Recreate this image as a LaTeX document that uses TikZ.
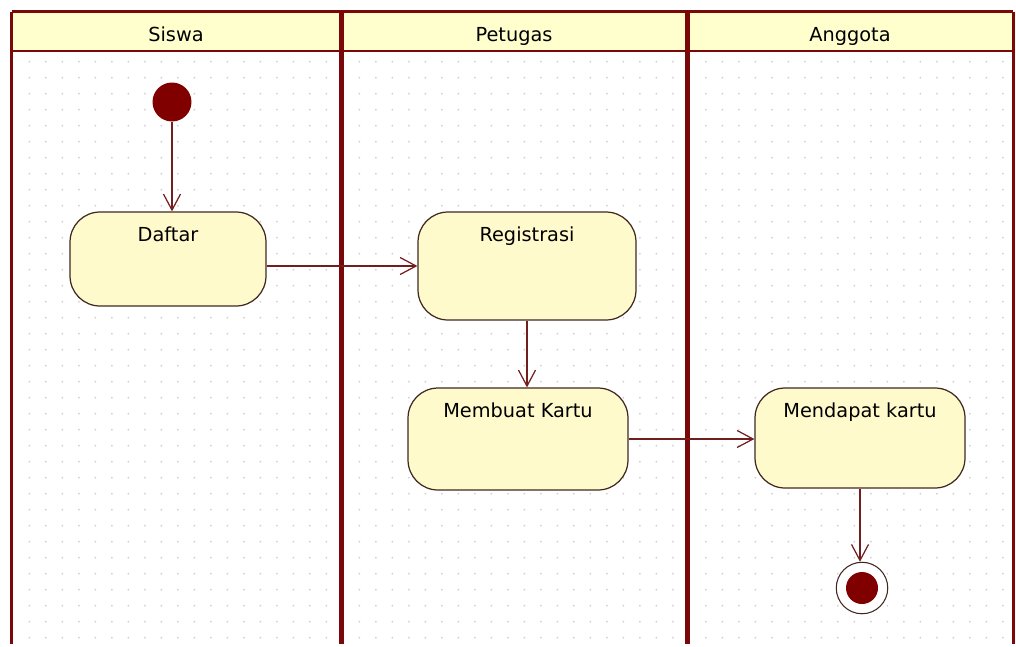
\documentclass[tikz,border=0pt]{standalone}
\usepackage{fontspec}
\setmainfont{DejaVu Sans}
\usetikzlibrary{arrows.meta,calc}
\definecolor{lanered}{RGB}{122,8,8}
\definecolor{headfill}{RGB}{255,255,206}
\definecolor{actfill}{RGB}{255,250,204}
\definecolor{actline}{RGB}{64,40,32}
\definecolor{flowline}{RGB}{112,30,30}
\definecolor{dotgray}{RGB}{208,208,208}
\definecolor{startred}{RGB}{128,0,0}

\begin{document}
\begin{tikzpicture}[x=0.02cm,y=-0.02cm,font=\fontsize{11}{13}\selectfont]
\path [use as bounding box] (0,0) rectangle (1016,646);
\tikzstyle{action} = [draw=actline, line width=0.7pt, fill=actfill, rounded corners=0.6cm, inner ysep=0.3cm, text height=0.29cm]
\tikzstyle{flow} = [draw=flowline, line width=0.7pt, -{Straight Barb[length=0.32cm,width=0.34cm]}]
\tikzstyle{startdot} = [circle, fill=startred, inner sep=0pt, minimum size=0.78cm]
\tikzstyle{enddot} = [circle, draw=actline, line width=0.6pt, fill=white, inner sep=0pt, minimum size=1.03cm,
  path picture={\fill[startred] (path picture bounding box.center) circle (0.32cm);}]
% header band and grid
\fill[headfill] (11.5,11.5) rectangle (1013,51);
\foreach \i in {0,...,59}
  \foreach \j in {0,...,36}
    \fill[dotgray] ({29.3+16.5*\i},{61.7+16*\j}) circle (0.02cm);
\draw[lanered, line width=0.05cm] (11.5,51) -- (1013,51);
\draw[lanered, line width=0.06cm] (11.5,11.5) -- (1013,11.5);
\foreach \x in {11.5,1013}
  \draw[lanered, line width=0.06cm] (\x,11.5) -- (\x,644);
\foreach \x in {341,687}
  \draw[lanered, line width=0.1cm] (\x,11.5) -- (\x,644);
\node[anchor=base] (siswa) at (176,41.5) {Siswa};
\node[anchor=base] (petugas) at (514,41.5) {Petugas};
\node[anchor=base] (anggota) at (850,41.5) {Anggota};
\coordinate (S) at (172,102);
\coordinate (D) at (168,259);
\coordinate (R) at (527,266);
\coordinate (M) at (518,439);
\coordinate (K) at (860,438);
\coordinate (F) at (862,588);
\node[startdot] (start) at (S) {};
\node[action, minimum width=3.92cm, text depth=0.99cm] (daftar) at (D) {Daftar};
\node[action, minimum width=4.36cm, text depth=1.27cm] (registrasi) at (R) {Registrasi};
\node[action, minimum width=4.4cm, text depth=1.15cm] (membuat) at (M) {Membuat Kartu};
\node[action, minimum width=4.2cm, text depth=1.11cm] (mendapat) at (K) {Mendapat kartu};
\node[enddot] (akhir) at (F) {};
\draw[flow] (start) -- (start |- daftar.north);
\draw[flow] (daftar.east |- registrasi.west) -- (registrasi.west);
\draw[flow] (registrasi.south) -- (registrasi.south |- membuat.north);
\draw[flow] (membuat.east) -- (membuat.east -| mendapat.west);
\draw[flow] (mendapat.south) -- (mendapat.south |- akhir.north);
\end{tikzpicture}
\end{document}
